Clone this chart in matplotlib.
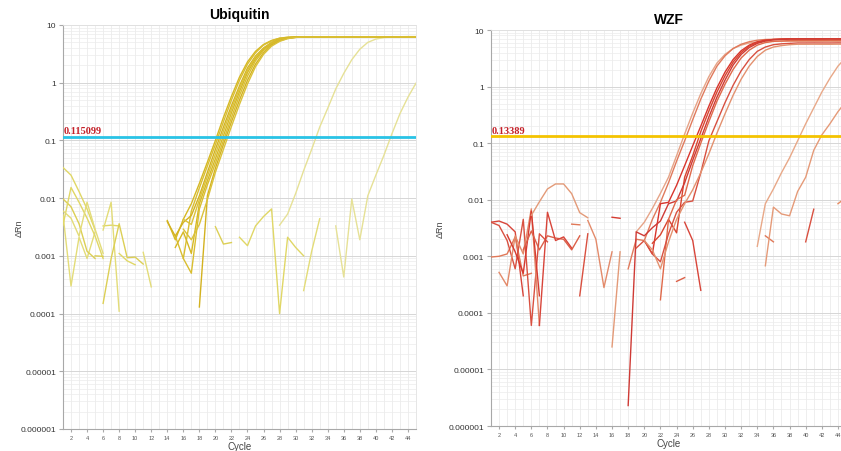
import numpy as np
import matplotlib
matplotlib.use("Agg")
import matplotlib.pyplot as plt
from matplotlib.ticker import FixedLocator, NullFormatter

N = np.nan

# ---------------- shared axis data ----------------
cycle_ticks = list(range(2, 45, 2))
y_ticks = [1e-6, 1e-5, 1e-4, 1e-3, 1e-2, 1e-1, 1, 10]
y_tick_labels = ["0.000001", "0.00001", "0.0001", "0.001", "0.01", "0.1", "1", "10"]

# ---------------- Ubiquitin ----------------
ubq_title = "Ubiquitin"
ubq_threshold = 0.115099
ubq_threshold_label = "0.115099"

# early amplifying wells: (first cycle, dRn per consecutive cycle)
ubq_early = [
    (14, [0.0041, 0.0019, 0.0043, 0.008, 0.018, 0.042, 0.1, 0.25, 0.58, 1.25, 2.3, 3.5, 4.6, 5.4, 5.9, 6.1,
          6.2, 6.2, 6.21, 6.2, 6.2, 6.22, 6.2, 6.21, 6.2, 6.2, 6.22, 6.2, 6.21, 6.2, 6.22, 6.2]),
    (15, [0.0022, 0.0009, 0.006, 0.015, 0.036, 0.085, 0.21, 0.5, 1.1, 2.1, 3.3, 4.5, 5.3, 5.9, 6.15,
          6.25, 6.25, 6.24, 6.25, 6.26, 6.25, 6.25, 6.24, 6.25, 6.26, 6.25, 6.25, 6.24, 6.25, 6.26, 6.25]),
    (14, [0.0039, 0.0022, 0.0038, 0.005, 0.011, 0.028, 0.07, 0.17, 0.4, 0.88, 1.8, 2.9, 4.0, 5.0, 5.7, 6.0, 6.15,
          6.2, 6.2, 6.19, 6.2, 6.21, 6.2, 6.2, 6.19, 6.2, 6.21, 6.2, 6.2, 6.19, 6.2, 6.2]),
    (16, [0.0043, 0.0035, 0.0095, 0.024, 0.058, 0.145, 0.35, 0.8, 1.65, 2.8, 3.9, 4.9, 5.6, 6.0, 6.15,
          6.25, 6.24, 6.25, 6.26, 6.25, 6.24, 6.25, 6.26, 6.25, 6.24, 6.25, 6.26, 6.25, 6.24, 6.25]),
    (15, [0.0014, 0.0026, 0.0011, 0.008, 0.02, 0.048, 0.12, 0.3, 0.7, 1.5, 2.6, 3.8, 4.8, 5.6, 6.0, 6.15,
          6.2, 6.21, 6.2, 6.19, 6.2, 6.21, 6.2, 6.19, 6.2, 6.21, 6.2, 6.19, 6.2, 6.21, 6.2]),
    (16, [0.0009, 0.0005, 0.0065, 0.017, 0.04, 0.1, 0.25, 0.6, 1.3, 2.4, 3.6, 4.7, 5.5, 5.95, 6.1,
          6.2, 6.2, 6.21, 6.2, 6.2, 6.19, 6.2, 6.2, 6.21, 6.2, 6.2, 6.19, 6.2, 6.2, 6.21]),
    (18, [0.00013, 0.011, 0.033, 0.085, 0.21, 0.5, 1.1, 2.1, 3.3, 4.5, 5.3, 5.85, 6.1,
          6.2, 6.2, 6.2, 6.21, 6.2, 6.2, 6.2, 6.21, 6.2, 6.2, 6.2, 6.21, 6.2, 6.2, 6.2]),
    (16, [0.0029, 0.0019, 0.0035, 0.0094, 0.028, 0.07, 0.175, 0.42, 0.95, 1.9, 3.1, 4.3, 5.2, 5.8, 6.1,
          6.2, 6.19, 6.2, 6.2, 6.21, 6.2, 6.19, 6.2, 6.2, 6.21, 6.2, 6.19, 6.2, 6.2, 6.21]),
]
# late amplifying wells
ubq_late = [
    (28, [0.0034, 0.0053, 0.012, 0.03, 0.07, 0.17, 0.36, 0.78, 1.45, 2.5, 3.8, 5.0, 5.7, 6.05, 6.2, 6.25, 6.3, 6.3]),
    (35, [0.0033, 0.00043, 0.0096, 0.0019, 0.011, 0.025, 0.055, 0.13, 0.29, 0.56, 0.98]),
]
# baseline noise fragments (negative values are not drawn on the log axis)
ubq_noise = [
    (1, [0.034, 0.025, 0.013, 0.0065, 0.0028]),
    (1, [0.0052, 0.0003, 0.0021, 0.0009, 0.0026]),
    (1, [0.0097, 0.0071, 0.0036, 0.0012, 0.0009]),
    (1, [0.0034, 0.0153, 0.0085, 0.0045, 0.0022, 0.0009]),
    (1, [0.006, 0.0045, 0.0022, 0.0085, 0.0029, 0.0011]),
    (5, [0.001, 0.00098]),
    (6, [0.0033, 0.0034, 0.0033]),
    (6, [0.0028, 0.0085, 0.00011]),
    (6, [0.00015, 0.0009, 0.0036, 0.00093, 0.00095, 0.00072]),
    (8, [0.0011, 0.00082, 0.0007]),
    (11, [0.00115, 0.00029]),
    (20, [0.0032, 0.0016, 0.0017]),
    (23, [0.0021, 0.0015, 0.0033, 0.0048, 0.0065, 0.0001, 0.0021, 0.0014, 0.001]),
    (31, [0.00025, 0.0012, 0.0044]),
]

# ---------------- WZF ----------------
wzf_title = "WZF"
wzf_threshold = 0.13389
wzf_threshold_label = "0.13389"

wzf_early = [
    (19, [0.0027, 0.004, 0.007, 0.013, 0.025, 0.06, 0.145, 0.34, 0.75, 1.5, 2.6, 3.7, 4.7, 5.4, 5.9, 6.1, 6.2, 6.3,
          6.3, 6.31, 6.3, 6.3, 6.32, 6.3, 6.31, 6.3, 6.3]),
    (18, [0.0006, 0.002, 0.0019, 0.0045, 0.009, 0.02, 0.048, 0.11, 0.26, 0.6, 1.25, 2.3, 3.5, 4.7, 5.6, 6.2, 6.6, 6.8, 6.85,
          6.9, 6.9, 6.92, 6.9, 6.91, 6.9, 6.92, 6.9, 6.9]),
    (20, [0.0019, 0.0011, 0.0085, 0.009, 0.018, 0.04, 0.09, 0.2, 0.45, 0.95, 1.8, 3.0, 4.3, 5.4, 6.2, 6.6, 6.8, 6.9,
          7.0, 7.0, 7.02, 7.0, 7.01, 7.0, 7.02, 7.0]),
    (21, [0.0017, 0.0024, 0.0045, 0.0026, 0.025, 0.06, 0.16, 0.37, 0.8, 1.55, 2.7, 4.0, 5.2, 6.0, 6.5, 6.8, 6.9,
          7.0, 7.01, 7.0, 7.02, 7.0, 7.0, 7.01, 7.0]),
    (18, [0.0000023, 0.0027, 0.0023, 0.0032, 0.0042, 0.0085, 0.0095, 0.02, 0.05, 0.12, 0.29, 0.65, 1.3, 2.4, 3.7, 4.9,
          5.8, 6.4, 6.7, 6.8, 6.9, 6.9, 6.91, 6.9, 6.9, 6.92, 6.9, 6.9]),
    (22, [0.00017, 0.0045, 0.01, 0.012, 0.04, 0.1, 0.24, 0.55, 1.1, 2.0, 3.2, 4.4, 5.4, 6.0, 6.3, 6.4,
          6.5, 6.5, 6.51, 6.5, 6.5, 6.52, 6.5, 6.5]),
    (19, [0.0014, 0.0019, 0.0011, 0.0008, 0.0025, 0.006, 0.009, 0.0095, 0.03, 0.11, 0.24, 0.52, 1.05, 1.9, 3.0, 4.2,
          5.0, 5.5, 5.7, 5.8, 5.9, 5.9, 5.91, 5.9, 5.9, 5.92, 5.9]),
    (20, [0.0019, 0.0013, 0.0006, 0.0018, 0.0045, 0.0085, 0.015, 0.03, 0.065, 0.15, 0.33, 0.7, 1.35, 2.3, 3.4, 4.4,
          5.0, 5.3, 5.5, 5.6, 5.6, 5.61, 5.6, 5.6, 5.62, 5.6]),
]
wzf_early_colors = ["#E6A488", "#E07A5C", "#D8342C", "#D9452F", "#CF3A35", "#E0694A", "#D85040", "#E3916F"]

wzf_late = [
    (34, [0.0015, 0.0085, 0.0155, 0.03, 0.055, 0.11, 0.22, 0.42, 0.8, 1.4, 2.3, 3.3]),
    (35, [0.00068, 0.0074, 0.0056, 0.0052, 0.014, 0.025, 0.075, 0.14, 0.22, 0.36, 0.55]),
    (44, [0.0085, 0.011]),
]
wzf_noise = [
    (1, [0.0040, 0.0042, 0.0037, 0.0027, 0.0002]),
    (1, [0.00097, 0.0010, 0.0011, 0.0022, 0.00045, 0.0005]),
    (1, [0.0040, 0.0035, 0.0019, 0.0006, 0.0045, 0.00006, 0.0025, 0.0018]),
    (2, [0.00052, 0.0003, 0.0023, 0.0011, 0.0069, 0.00006]),
    (3, [0.0024, 0.0012, 0.0005, 0.0063, 0.0002]),
    (6, [0.0053, 0.0092, 0.0155, 0.019, 0.019, 0.0128, 0.0059, 0.0048]),
    (5, [0.0013, 0.0028, 0.0013, 0.0023, 0.0021, 0.0020, 0.0013, 0.0023]),
    (7, [0.00006, 0.006, 0.0019, 0.0022, 0.0014]),
    (11, [0.0037, 0.0036]),
    (12, [0.0002, 0.0025]),
    (13, [0.0043, 0.0020, 0.00028, 0.0012]),
    (16, [0.0049, 0.0047]),
    (16, [0.000025, 0.0012]),
    (24, [0.00036, 0.00042]),
    (25, [0.004, 0.0019, 0.00025]),
    (35, [0.0023, 0.0018]),
    (40, [0.0018, 0.0068]),
]
wzf_noise_colors = ["#D8453A", "#E07858", "#D95040", "#E38A6A", "#D63A30", "#E39A78", "#DC6048"]


def draw_traces(ax, traces, colors, lw=1.0, alpha=1.0):
    for i, (start, vals) in enumerate(traces):
        v = np.array(vals, dtype=float)
        x = start + np.arange(len(v))
        ax.plot(x, v, color=colors[i % len(colors)], lw=lw, alpha=alpha,
                solid_joinstyle="round", zorder=3)


def style_axes(ax, title, thr, thr_label, thr_color, ylab_x):
    ax.set_yscale("log")
    ax.set_xlim(1, 45)
    ax.set_ylim(1e-6, 10)
    ax.set_facecolor("white")
    ax.xaxis.set_major_locator(FixedLocator(cycle_ticks))
    ax.xaxis.set_minor_locator(FixedLocator(list(range(1, 46))))
    ax.set_xticklabels([str(t) for t in cycle_ticks])
    ax.set_yticks(y_ticks)
    ax.set_yticklabels(y_tick_labels)
    ax.yaxis.set_minor_formatter(NullFormatter())
    ax.tick_params(axis="x", which="major", labelsize=4, length=2, color="#AAAAAA",
                   labelcolor="#555555", pad=2)
    ax.tick_params(axis="x", which="minor", length=0)
    ax.tick_params(axis="y", which="major", labelsize=6, length=3, color="#AAAAAA",
                   labelcolor="#333333", pad=2)
    ax.tick_params(axis="y", which="minor", length=0)
    ax.grid(True, which="major", axis="y", color="#D6D6D6", lw=0.7, zorder=0)
    ax.grid(True, which="minor", axis="y", color="#ECECEC", lw=0.5, zorder=0)
    ax.grid(True, which="both", axis="x", color="#E8E8E8", lw=0.5, zorder=0)
    for side in ["left", "bottom"]:
        ax.spines[side].set_color("#A8A8A8")
        ax.spines[side].set_linewidth(0.8)
    for side in ["top", "right"]:
        ax.spines[side].set_color("#E2E2E2")
        ax.spines[side].set_linewidth(0.6)
    ax.set_title(title, fontsize=10, fontweight="bold", pad=5, family="Liberation Sans")
    ax.set_xlabel("Cycle", fontsize=7, color="#444444", labelpad=1, family="Liberation Sans")
    ax.set_ylabel("ΔRn", fontsize=6.5, color="#444444", family="Liberation Sans")
    ax.yaxis.set_label_coords(ylab_x, 0.5)
    ax.axhline(thr, color=thr_color, lw=2.0, zorder=4)
    ax.text(1.05, thr * 1.06, thr_label, fontsize=7.5, color="#C42028", fontweight="bold",
            family="Liberation Serif", va="bottom", ha="left", zorder=5)
    for lab in ax.get_xticklabels() + ax.get_yticklabels():
        lab.set_family("Liberation Sans")


fig = plt.figure(figsize=(8.41, 4.52), dpi=100)
fig.patch.set_facecolor("white")

ax1 = fig.add_axes([0.0749, 0.0487, 0.4197, 0.8938])
draw_traces(ax1, ubq_noise, ["#E0D766", "#E3DC78", "#DCCF55"], lw=1.0)
draw_traces(ax1, ubq_late, ["#E6E196"], lw=1.0)
draw_traces(ax1, ubq_early, ["#D6B824", "#D9BE30", "#D3B220", "#DBC23A"], lw=1.0)
style_axes(ax1, ubq_title, ubq_threshold, ubq_threshold_label, "#29C3E6", -0.112)

ax2 = fig.add_axes([0.5838, 0.0553, 0.4222, 0.8761])
draw_traces(ax2, wzf_noise, wzf_noise_colors, lw=1.0)
draw_traces(ax2, wzf_late, ["#E8A888", "#E59A78", "#E58A60"], lw=1.0)
draw_traces(ax2, wzf_early, wzf_early_colors, lw=1.0)
style_axes(ax2, wzf_title, wzf_threshold, wzf_threshold_label, "#F4C300", -0.13)

fig.savefig("out.png", dpi=100, facecolor="white")
